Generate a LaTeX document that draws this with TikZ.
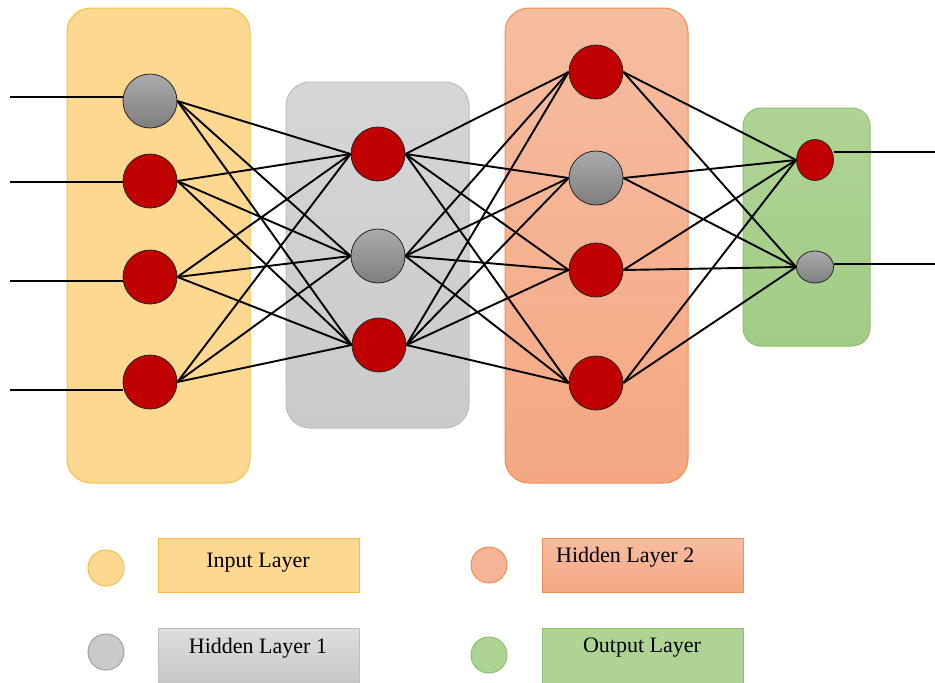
\documentclass[tikz,border=0pt]{standalone}
\usepackage{fontspec}
\setmainfont{Liberation Serif}
\usetikzlibrary{shapes.geometric}

\definecolor{inFill}{HTML}{FDD891}
\definecolor{inEdge}{HTML}{F4C042}
\definecolor{hoTop}{HTML}{D6D6D6}
\definecolor{hoBot}{HTML}{CACACA}
\definecolor{hoEdge}{HTML}{BDBDBD}
\definecolor{htTop}{HTML}{F6BDA1}
\definecolor{htBot}{HTML}{F4A782}
\definecolor{htEdge}{HTML}{F0904F}
\definecolor{outTop}{HTML}{AED494}
\definecolor{outBot}{HTML}{A2CC86}
\definecolor{outEdge}{HTML}{8CC06B}
\definecolor{nred}{HTML}{C00000}
\definecolor{ngTop}{HTML}{ABABAB}
\definecolor{ngBot}{HTML}{7E7E7E}

\begin{document}
\begin{tikzpicture}[x=1pt,y=-1pt,
  panel/.style={rounded corners=24pt, line width=1pt},
  neuron/.style={circle, minimum size=54pt, inner sep=0pt, draw=black!85, line width=0.8pt},
  redn/.style={neuron, fill=nred},
  grayn/.style={neuron, top color=ngTop, bottom color=ngBot},
  outn/.style={ellipse, inner sep=0pt, draw=black!85, line width=0.8pt, minimum width=37pt},
  wire/.style={line width=1.9pt, black},
  keydot/.style={circle, minimum size=36pt, inner sep=0pt, line width=1pt},
  keybox/.style={line width=1pt},
  keytext/.style={font=\fontsize{22}{25}\selectfont, inner sep=0pt}
]
\useasboundingbox (0,0) rectangle (935,683);
\fill[white] (0,0) rectangle (935,683);

% layer panels
\path[panel, fill=inFill, draw=inEdge] (67,8) rectangle (250,483);
\path[panel, top color=hoTop, bottom color=hoBot, draw=hoEdge] (286,82) rectangle (469,428);
\path[panel, top color=htTop, bottom color=htBot, draw=htEdge] (505,8) rectangle (688,483);
\path[panel, rounded corners=18pt, top color=outTop, bottom color=outBot, draw=outEdge] (743,108) rectangle (870,346);

% neurons
\node[grayn] (i1) at (150,101) {};
\node[redn]  (i2) at (150,181) {};
\node[redn]  (i3) at (150,277) {};
\node[redn]  (i4) at (150,382) {};

\node[redn]  (h1) at (378,154) {};
\node[grayn] (h2) at (378,256) {};
\node[redn]  (h3) at (379,345) {};

\node[redn]  (k1) at (596,72) {};
\node[grayn] (k2) at (596,178) {};
\node[redn]  (k3) at (596,270) {};
\node[redn]  (k4) at (596,383) {};

\node[outn, fill=nred, minimum height=41pt] (o1) at (815,160) {};
\node[outn, top color=ngTop, bottom color=ngBot, minimum height=32pt] (o2) at (815,267) {};

% inputs and outputs
\coordinate (x1) at (10,97);
\coordinate (x2) at (10,182);
\coordinate (x3) at (10,281);
\coordinate (x4) at (10,390);
\coordinate (y1) at (935,152);
\coordinate (y2) at (935,264);
\foreach \n in {1,...,4}
  \draw[wire] (x\n) -- (x\n -| i\n.west);
\draw[wire] (y1 -| o1.east) -- (y1);
\draw[wire] (y2 -| o2.east) -- (y2);

% full connections between layers
\foreach \a in {i1,i2,i3,i4}
  \foreach \b in {h1,h2,h3}
    \draw[wire] (\a.east) -- (\b.west);
\foreach \a in {h1,h2,h3}
  \foreach \b in {k1,k2,k3,k4}
    \draw[wire] (\a.east) -- (\b.west);
\foreach \a in {k1,k2,k3,k4}
  \foreach \b in {o1,o2}
    \draw[wire] (\a.east) -- (\b.west);

% legend
\node[keydot, fill=inFill, draw=inEdge] (d1) at (106,568) {};
\node[keydot, fill=hoBot, draw=hoEdge!85!black] (d2) at (106,652) {};
\node[keydot, fill=htTop!60!htBot, draw=htEdge] (d3) at (489,565) {};
\node[keydot, fill=outTop, draw=outEdge] (d4) at (489,655) {};

\path[keybox, fill=inFill, draw=inEdge] (158,538) rectangle (359,592);
\path[keybox, top color=hoTop!80!white, bottom color=hoBot!95!black, draw=hoEdge] (158,628) rectangle (359,700);
\path[keybox, top color=htTop, bottom color=htBot, draw=htEdge] (542,538) rectangle (743,592);
\path[keybox, fill=outTop, draw=outEdge] (542,628) rectangle (743,700);

\node[keytext] (t1) at (258,563) {Input Layer};
\node[keytext] (t2) at (258,648) {Hidden Layer 1};
\node[keytext, anchor=west] (t3) at (556,557) {Hidden Layer 2};
\node[keytext] (t4) at (642,648) {Output Layer};
\end{tikzpicture}
\end{document}
